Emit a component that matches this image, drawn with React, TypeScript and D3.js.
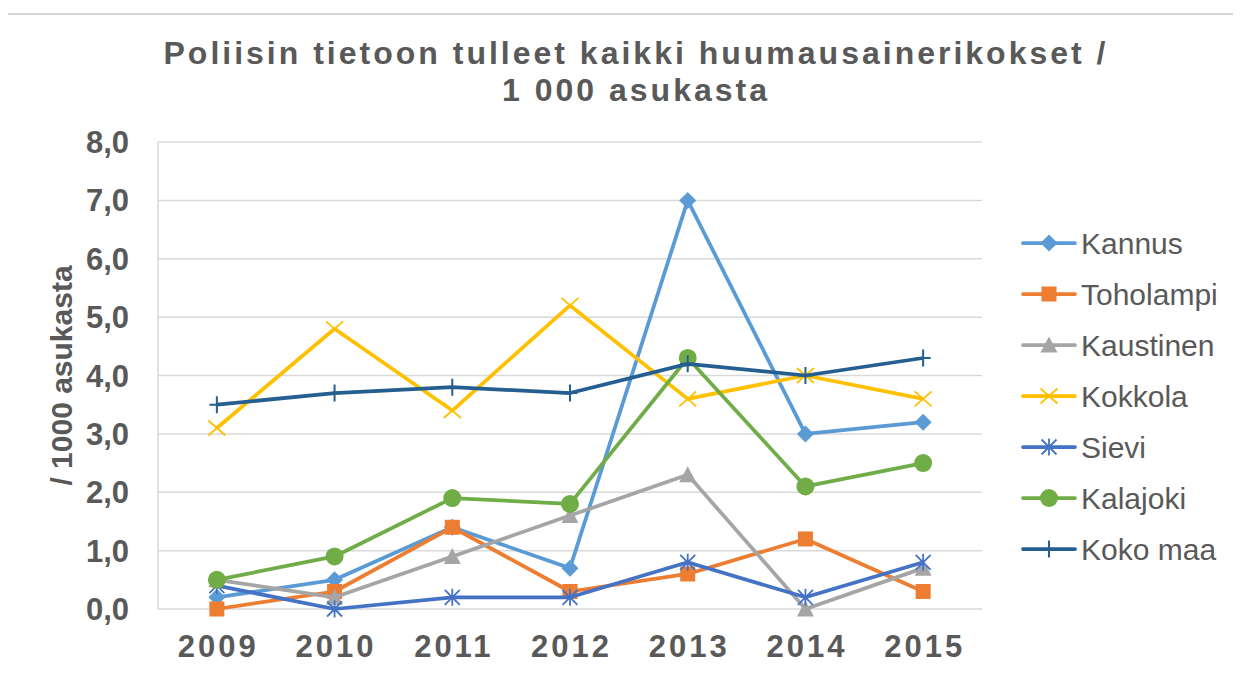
import React, { useRef, useEffect } from 'react';
import * as d3 from 'd3';

const years = ['2009', '2010', '2011', '2012', '2013', '2014', '2015'];
const yTicks = [0, 1, 2, 3, 4, 5, 6, 7, 8];

const kannus = [0.2, 0.5, 1.4, 0.7, 7.0, 3.0, 3.2];
const toholampi = [0.0, 0.3, 1.4, 0.3, 0.6, 1.2, 0.3];
const kaustinen = [0.5, 0.2, 0.9, 1.6, 2.3, 0.0, 0.7];
const kokkola = [3.1, 4.8, 3.4, 5.2, 3.6, 4.0, 3.6];
const sievi = [0.4, 0.0, 0.2, 0.2, 0.8, 0.2, 0.8];
const kalajoki = [0.5, 0.9, 1.9, 1.8, 4.3, 2.1, 2.5];
const kokoMaa = [3.5, 3.7, 3.8, 3.7, 4.2, 4.0, 4.3];

const series = [
  { name: 'Kannus', values: kannus, color: '#5B9BD5', marker: 'diamond' },
  { name: 'Toholampi', values: toholampi, color: '#ED7D31', marker: 'square' },
  { name: 'Kaustinen', values: kaustinen, color: '#A5A5A5', marker: 'triangle' },
  { name: 'Kokkola', values: kokkola, color: '#FFC000', marker: 'x' },
  { name: 'Sievi', values: sievi, color: '#4472C4', marker: 'star' },
  { name: 'Kalajoki', values: kalajoki, color: '#70AD47', marker: 'circle' },
  { name: 'Koko maa', values: kokoMaa, color: '#255E91', marker: 'plus' },
];

const fmt = (v: number) => v.toFixed(1).replace('.', ',');

function drawMarker(g: any, type: string, x: number, y: number, color: string) {
  const s = 7.5;
  if (type === 'diamond') {
    g.append('path').attr('d', `M${x},${y - s - 1}L${x + s + 1},${y}L${x},${y + s + 1}L${x - s - 1},${y}Z`).attr('fill', color);
  } else if (type === 'square') {
    g.append('rect').attr('x', x - s).attr('y', y - s).attr('width', 2 * s).attr('height', 2 * s).attr('fill', color);
  } else if (type === 'triangle') {
    g.append('path').attr('d', `M${x},${y - s - 1}L${x + s + 1},${y + s}L${x - s - 1},${y + s}Z`).attr('fill', color);
  } else if (type === 'circle') {
    g.append('circle').attr('cx', x).attr('cy', y).attr('r', s + 1.5).attr('fill', color);
  } else if (type === 'x') {
    g.append('path').attr('d', `M${x - s - 1},${y - s}L${x + s + 1},${y + s}M${x - s - 1},${y + s}L${x + s + 1},${y - s}`)
      .attr('stroke', color).attr('stroke-width', 1.8).attr('fill', 'none');
  } else if (type === 'star') {
    g.append('path').attr('d', `M${x - s},${y - s}L${x + s},${y + s}M${x - s},${y + s}L${x + s},${y - s}M${x},${y - s - 1}L${x},${y + s + 1}`)
      .attr('stroke', color).attr('stroke-width', 1.8).attr('fill', 'none');
  } else if (type === 'plus') {
    g.append('path').attr('d', `M${x - s},${y}L${x + s},${y}M${x},${y - s - 1}L${x},${y + s + 1}`)
      .attr('stroke', color).attr('stroke-width', 2).attr('fill', 'none');
  }
}

export default function App() {
  const svgRef = useRef<SVGSVGElement>(null);

  useEffect(() => {
    const svg = d3.select(svgRef.current);
    svg.selectAll('*').remove();

    const left = 158, right = 982, top = 142, bottom = 609;

    // chart frame
    svg.append('rect').attr('x', 6).attr('y', 14).attr('width', 1250).attr('height', 700)
      .attr('fill', 'white').attr('stroke', '#D4D4D4').attr('stroke-width', 2);

    const x = d3.scaleBand().domain(years).range([left, right]);
    const y = d3.scaleLinear().domain([0, 8]).range([bottom, top]);

    // gridlines
    svg.append('g').selectAll('line').data(yTicks).enter().append('line')
      .attr('x1', left).attr('x2', right)
      .attr('y1', d => y(d)).attr('y2', d => y(d))
      .attr('stroke', '#D9D9D9').attr('stroke-width', 1.5);
    svg.append('line').attr('x1', left).attr('x2', left).attr('y1', top).attr('y2', bottom)
      .attr('stroke', '#D9D9D9').attr('stroke-width', 1.5);

    const font = 'Liberation Sans, Arial, sans-serif';

    // y tick labels
    svg.append('g').selectAll('text').data(yTicks).enter().append('text')
      .attr('x', 129).attr('y', d => y(d) + 11)
      .attr('text-anchor', 'end')
      .style('font-family', font).style('font-weight', 'bold').style('font-size', '31px')
      .attr('fill', '#595959').text(d => fmt(d));

    // x tick labels
    svg.append('g').selectAll('text').data(years).enter().append('text')
      .attr('x', d => (x(d) as number) + x.bandwidth() / 2 + 1.5).attr('y', 657)
      .attr('text-anchor', 'middle')
      .style('font-family', font).style('font-weight', 'bold').style('font-size', '31px')
      .style('letter-spacing', '3px')
      .attr('fill', '#595959').text(d => d);

    // y axis title
    svg.append('text')
      .attr('transform', `translate(72,${(top + bottom) / 2}) rotate(-90)`)
      .attr('text-anchor', 'middle')
      .style('font-family', font).style('font-weight', 'bold').style('font-size', '30px')
      .attr('fill', '#595959').text('/ 1000 asukasta');

    // title
    const title = svg.append('text').attr('text-anchor', 'middle')
      .style('font-family', font).style('font-weight', 'bold').style('font-size', '32px')
      .style('letter-spacing', '3px').attr('fill', '#595959');
    title.append('tspan').attr('x', 636).attr('y', 64).text('Poliisin tietoon tulleet kaikki huumausainerikokset /');
    title.append('tspan').attr('x', 636).attr('y', 101).text('1 000 asukasta');

    const cx = (i: number) => (x(years[i]) as number) + x.bandwidth() / 2;
    const line = d3.line<number>().x((d, i) => cx(i)).y(d => y(d));

    series.forEach(s => {
      const g = svg.append('g');
      g.append('path').datum(s.values).attr('d', line)
        .attr('fill', 'none').attr('stroke', s.color).attr('stroke-width', 3.75)
        .attr('stroke-linejoin', 'round');
      s.values.forEach((v, i) => drawMarker(g, s.marker, cx(i), y(v), s.color));
    });

    // legend
    const legend = svg.append('g');
    series.forEach((s, i) => {
      const ly = 243 + i * 51;
      legend.append('line').attr('x1', 1023).attr('x2', 1075).attr('y1', ly).attr('y2', ly)
        .attr('stroke', s.color).attr('stroke-width', 3.75).attr('stroke-linecap', 'round');
      drawMarker(legend, s.marker, 1049, ly, s.color);
      legend.append('text').attr('x', 1081).attr('y', ly + 11)
        .style('font-family', font).style('font-size', '30px')
        .attr('fill', '#595959').text(s.name);
    });
  }, []);

  return (
    <svg ref={svgRef} width={1241} height={673} style={{ display: 'block', margin: '-8px' }}></svg>
  );
}
